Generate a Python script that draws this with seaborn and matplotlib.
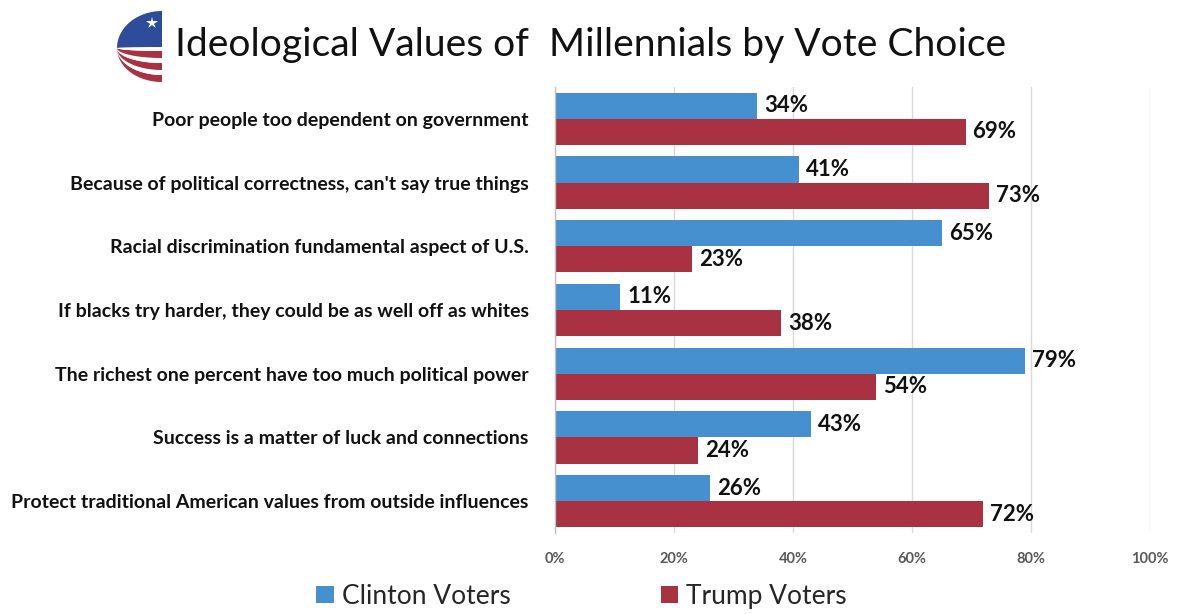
import numpy as np
import pandas as pd
import matplotlib
matplotlib.use("Agg")
import matplotlib.pyplot as plt
from matplotlib.patches import Polygon
import seaborn as sns

# Survey items and shares agreeing (%), by vote choice
categories = [
    "Poor people too dependent on government",
    "Because of political correctness, can't say true things",
    "Racial discrimination fundamental aspect of U.S.",
    "If blacks try harder, they could be as well off as whites",
    "The richest one percent have too much political power",
    "Success is a matter of luck and connections",
    "Protect traditional American values from outside influences",
]
clinton = [34, 41, 65, 11, 79, 43, 26]
trump = [69, 73, 23, 38, 54, 24, 72]
series_names = ["Clinton Voters", "Trump Voters"]
x_ticks = [0, 20, 40, 60, 80, 100]
x_tick_labels = ["0%", "20%", "40%", "60%", "80%", "100%"]
title = "Ideological Values of  Millennials by Vote Choice"

BLUE = "#4690D0"
RED = "#A83242"

sns.set_theme(style="white")
plt.rcParams["font.family"] = ["Lato", "DejaVu Sans"]

df = pd.DataFrame({
    "item": categories * 2,
    "value": clinton + trump,
    "group": [series_names[0]] * len(categories) + [series_names[1]] * len(categories),
})

W, H = 1177, 614
fig = plt.figure(figsize=(W / 100, H / 100), dpi=100)
ax = fig.add_axes([555 / W, 1 - 533 / H, (1150 - 555) / W, (533 - 87) / H])

sns.barplot(data=df, x="value", y="item", hue="group", order=categories,
            hue_order=series_names, palette=[BLUE, RED], orient="h",
            width=0.82, saturation=1, linewidth=0, ax=ax)

ax.set_xlim(0, 100)
ax.set_ylim(len(categories) - 0.5, -0.5)
ax.set_xticks(x_ticks)
ax.set_xticklabels(x_tick_labels)
ax.set_xlabel("")
ax.set_ylabel("")
ax.xaxis.grid(True, color="#D9D9D9", linewidth=1)
ax.set_axisbelow(True)
for side in ["top", "right", "bottom"]:
    ax.spines[side].set_visible(False)
ax.spines["left"].set_color("#BFBFBF")
ax.spines["left"].set_linewidth(1)

ax.tick_params(axis="x", length=0, pad=14, labelsize=10.5, labelcolor="#595959")
ax.tick_params(axis="y", length=0, pad=19, labelsize=14, labelcolor="#111111")
for lab in ax.get_xticklabels():
    lab.set_fontweight("bold")
for lab in ax.get_yticklabels():
    lab.set_fontweight("bold")

for cont in ax.containers:
    ax.bar_label(cont, fmt="%d%%", padding=5, fontsize=16, fontweight="bold",
                 color="#111111")

handles, labels = ax.get_legend_handles_labels()
if ax.get_legend() is not None:
    ax.get_legend().remove()
fig.legend(handles, labels, loc="lower center", bbox_to_anchor=(0.494, -0.03),
           ncol=2, frameon=False, fontsize=19, handlelength=0.65,
           handleheight=0.65, handletextpad=0.3, columnspacing=5.7)

fig.text(175 / W, 1 - 45 / H, title, fontsize=28.1, ha="left", va="center",
         color="#111111")

# Flag emblem beside the title
lax = fig.add_axes([115 / W, 1 - 82 / H, 50 / W, 72 / H])
lax.set_xlim(0, 50)
lax.set_ylim(0, 72)
lax.axis("off")
t = np.linspace(0, np.pi / 2, 60)
x0, y0 = 2.0, 34.0


def arc(y_end):
    return np.column_stack([47 - 45 * np.cos(t), y0 - (y0 - y_end) * np.sin(t)])


upper = np.column_stack([47 - 45 * np.cos(t), y0 + (71 - y0) * np.sin(t)])
edges = [0, 7, 12, 19, 24, 31, 35]
band_colors = [RED, "white", RED, "white", RED, "white"]
for k, c in enumerate(band_colors):
    a, b = arc(edges[k]), arc(edges[k + 1])
    lax.add_patch(Polygon(np.vstack([a, b[::-1]]), closed=True, facecolor=c,
                          edgecolor="none"))
lax.add_patch(Polygon(np.vstack([arc(edges[-1]), upper[::-1]]), closed=True,
                      facecolor="#2E4C9A", edgecolor="none"))
lax.plot([37], [59], marker="*", color="white", markersize=9, markeredgewidth=0)

fig.savefig("out.png", dpi=100, facecolor="white")
